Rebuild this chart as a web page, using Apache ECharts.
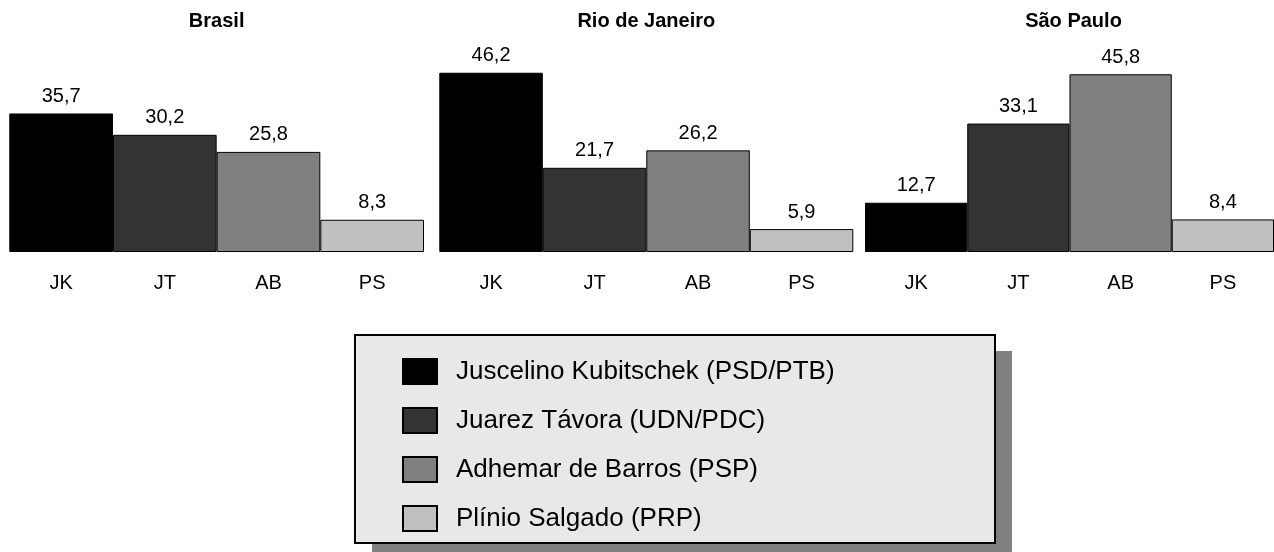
<!DOCTYPE html>
<html>
<head>
<meta charset="utf-8">
<script src="https://cdn.jsdelivr.net/npm/echarts@6/dist/echarts.min.js"></script>
<style>
  html, body { margin: 0; padding: 0; background: #fff; }
  #chart { width: 1274px; height: 552px; }
</style>
</head>
<body>
<div id="chart"></div>
<script>
// dados (1955)
const categories = ['JK', 'JT', 'AB', 'PS']
const candidates = [
  'Juscelino Kubitschek (PSD/PTB)',
  'Juarez Távora (UDN/PDC)',
  'Adhemar de Barros (PSP)',
  'Plínio Salgado (PRP)'
]
const regions = ['Brasil', 'Rio de Janeiro', 'São Paulo']
const brasil = [35.7, 30.2, 25.8, 8.3]
const rioDeJaneiro = [46.2, 21.7, 26.2, 5.9]
const saoPaulo = [12.7, 33.1, 45.8, 8.4]

const regionValues = [brasil, rioDeJaneiro, saoPaulo]
const colors = ['#000000', '#333333', '#808080', '#c0c0c0']
const font = '"Liberation Sans", Arial, sans-serif'

const panelLeft = [9.3, 439.3, 865]
const panelWidth = [414.7, 414, 417]

const chart = echarts.init(document.getElementById('chart'))

const grids = []
const xAxes = []
const yAxes = []
const series = []
const titles = []

regions.forEach((region, r) => {
  grids.push({ left: panelLeft[r], width: panelWidth[r], top: 58, bottom: 300 })
  xAxes.push({
    type: 'category',
    gridIndex: r,
    data: categories,
    axisLine: { show: false },
    axisTick: { show: false },
    axisLabel: { margin: 21, fontSize: 20, color: '#000', fontFamily: font }
  })
  yAxes.push({
    type: 'value',
    gridIndex: r,
    min: 0,
    max: 50,
    show: false,
    splitLine: { show: false }
  })
  titles.push({
    type: 'text',
    x: panelLeft[r] + panelWidth[r] / 2,
    y: 21,
    style: {
      text: region,
      font: 'bold 20px ' + font,
      fill: '#000',
      textAlign: 'center',
      textVerticalAlign: 'middle'
    }
  })
  candidates.forEach((name, c) => {
    series.push({
      name: name,
      type: 'bar',
      xAxisIndex: r,
      yAxisIndex: r,
      stack: 'r' + r,
      barWidth: '100%',
      data: categories.map((_, i) => (i === c ? regionValues[r][c] : '-')),
      itemStyle: { color: colors[c], borderColor: '#000', borderWidth: 1 },
      label: {
        show: true,
        position: 'top',
        distance: 7,
        fontSize: 20,
        color: '#000',
        fontFamily: font,
        formatter: p => p.value.toFixed(1).replace('.', ',')
      },
      animation: false
    })
  })
})

chart.setOption({
  backgroundColor: '#fff',
  animation: false,
  grid: grids,
  xAxis: xAxes,
  yAxis: yAxes,
  legend: {
    data: candidates,
    orient: 'vertical',
    left: 402,
    top: 358,
    padding: 0,
    itemWidth: 34,
    itemHeight: 25,
    itemGap: 22,
    selectedMode: false,
    icon: 'rect',
    textStyle: {
      fontSize: 26,
      lineHeight: 26,
      color: '#000',
      fontFamily: font,
      padding: [0, 0, 0, 14]
    }
  },
  graphic: [
    {
      type: 'rect',
      z: -10,
      shape: { x: 372, y: 351, width: 640, height: 208 },
      style: { fill: '#808080' }
    },
    {
      type: 'rect',
      z: -9,
      shape: { x: 355, y: 335, width: 640, height: 208 },
      style: { fill: '#e8e8e8', stroke: '#000', lineWidth: 2 }
    }
  ].concat(titles),
  series: series
})
</script>
</body>
</html>
